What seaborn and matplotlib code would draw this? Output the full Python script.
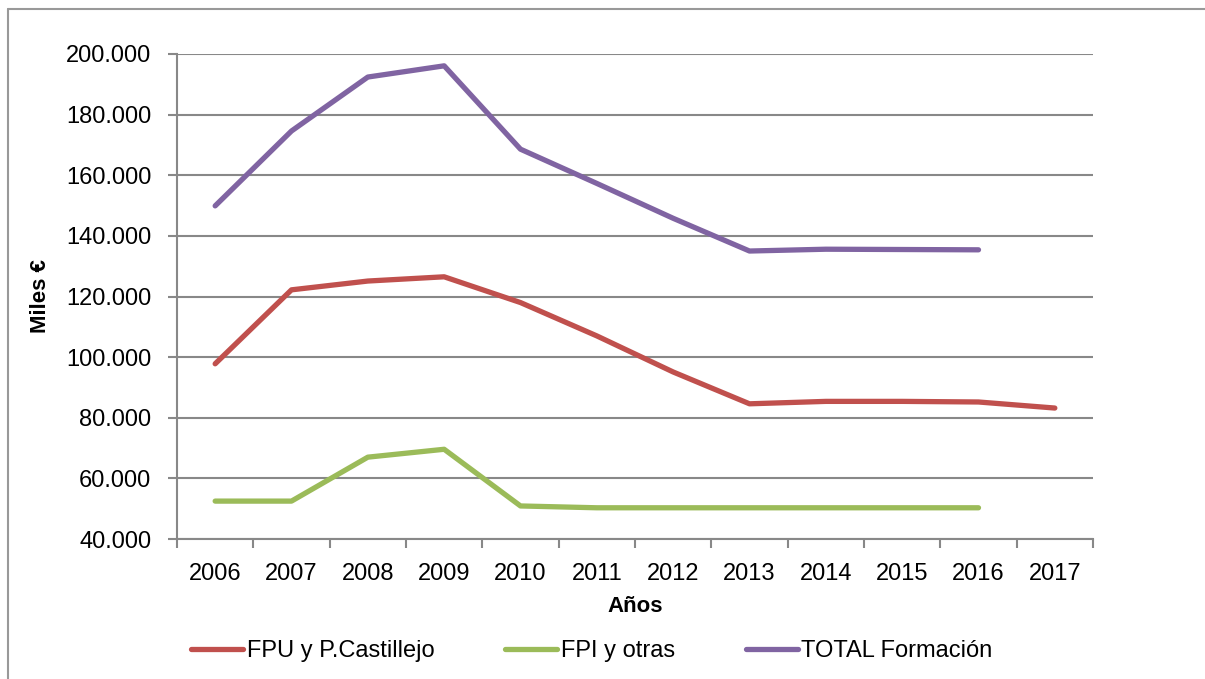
import matplotlib.pyplot as plt
import matplotlib.ticker as mticker
import seaborn as sns
import numpy as np
import pandas as pd

years = [str(y) for y in range(2006, 2018)]
fpu = [97.8, 122.2, 125.1, 126.5, 118.0, 107.0, 95.1, 84.6, 85.4, 85.4, 85.2, 83.2]
fpi = [52.5, 52.5, 67.0, 69.6, 50.9, 50.3, 50.3, 50.3, 50.3, 50.3, 50.3, np.nan]
total = [149.9, 174.6, 192.4, 196.1, 168.6, 157.3, 145.8, 135.0, 135.6, 135.5, 135.4, np.nan]

series_names = ["FPU y P.Castillejo", "FPI y otras", "TOTAL Formación"]
colors = ["#C0504D", "#9BBB59", "#8064A2"]

rows = []
for name, vals in zip(series_names, [fpu, fpi, total]):
    for i, v in enumerate(vals):
        rows.append({"idx": i, "valor": v, "serie": name})
df = pd.DataFrame(rows).dropna()

sns.set_style("white")
plt.rcParams["font.family"] = ["Liberation Sans", "DejaVu Sans"]
plt.rcParams["text.color"] = "black"
plt.rcParams["xtick.color"] = "black"
plt.rcParams["ytick.color"] = "black"

fig = plt.figure(figsize=(12.05, 6.79), dpi=100)
ax = fig.add_axes([177 / 1205, 1 - 539 / 679, (1093 - 177) / 1205, (539 - 54) / 679])

sns.lineplot(data=df, x="idx", y="valor", hue="serie", hue_order=series_names,
             palette=colors, linewidth=3.8, ax=ax, legend=False,
             solid_capstyle="round", solid_joinstyle="round", zorder=3)

grid_col = "#888888"
ax.set_xlim(-0.5, len(years) - 0.5)
ax.set_ylim(40, 200)
ax.set_yticks(np.arange(40, 201, 20))
ax.yaxis.set_major_formatter(mticker.FuncFormatter(lambda v, p: f"{int(v)}.000"))
ax.set_xticks(np.arange(-0.5, len(years), 1))
ax.set_xticklabels([])
ax.set_xticks(np.arange(len(years)), minor=True)
ax.set_xticklabels(years, minor=True)
ax.tick_params(axis="x", which="major", bottom=True, direction="out", length=6.5, width=1.5,
               color=grid_col)
ax.tick_params(axis="x", which="minor", bottom=True, length=0, pad=17, labelsize=17,
               labelcolor="black")
ax.tick_params(axis="y", left=True, direction="out", length=6.5, width=1.5, color=grid_col,
               pad=12, labelsize=17, labelcolor="black")
ax.grid(axis="y", color=grid_col, linewidth=1.5)
ax.set_axisbelow(True)
for s in ["top", "right"]:
    ax.spines[s].set_visible(False)
for s in ["left", "bottom"]:
    ax.spines[s].set_color(grid_col)
    ax.spines[s].set_linewidth(1.5)

ax.set_xlabel("")
ax.set_ylabel("")
fig.text(635 / 1205, 1 - 607 / 679, "Años", ha="center", va="center", fontsize=16,
         fontweight="bold", color="black")
fig.text(40 / 1205, 1 - 296 / 679, "Miles €", ha="center", va="center", rotation=90,
         fontsize=16, fontweight="bold", color="black")

handles = [plt.Line2D([], [], color=c, linewidth=3.8, solid_capstyle="round") for c in colors]
leg = fig.legend(handles, series_names, loc="center", bbox_to_anchor=(592 / 1205, 1 - 651 / 679),
                 ncol=3, frameon=False, fontsize=17, handlelength=2.2, handletextpad=0.15,
                 columnspacing=3.0)
for t in leg.get_texts():
    t.set_color("black")

# Excel chart border (left and top visible)
fig.add_artist(plt.Line2D([8 / 1205, 8 / 1205], [0, 1 - 9 / 679], color="#999999", linewidth=1.5,
                          transform=fig.transFigure))
fig.add_artist(plt.Line2D([8 / 1205, 1], [1 - 9 / 679, 1 - 9 / 679], color="#999999", linewidth=1.5,
                          transform=fig.transFigure))

plt.savefig("out.png", dpi=100)
plt.close()
